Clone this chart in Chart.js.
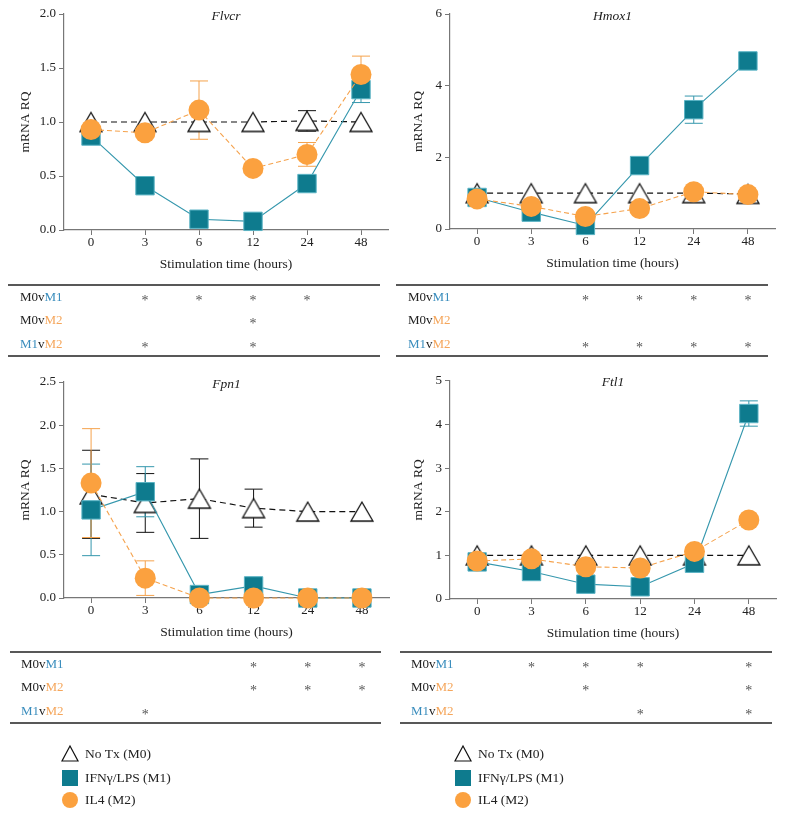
<!DOCTYPE html>
<html>
<head>
<meta charset="utf-8">
<title>mRNA RQ</title>
<script src="https://cdn.jsdelivr.net/npm/chart.js@4.4.1/dist/chart.umd.min.js"></script>
<style>
  body { margin: 0; background: #fff; }
  #page { position: relative; width: 786px; height: 816px; overflow: hidden; }
  canvas { position: absolute; }
</style>
</head>
<body>
<div id="page">
  <canvas id="flvcr" width="393" height="370" style="left:0;top:0"></canvas>
  <canvas id="hmox1" width="393" height="370" style="left:393px;top:0"></canvas>
  <canvas id="fpn1" width="393" height="446" style="left:0;top:370px"></canvas>
  <canvas id="ftl1" width="393" height="446" style="left:393px;top:370px"></canvas>
</div>
<script>
// time points (hours)
const hours = ['0', '3', '6', '12', '24', '48'];
const groupNames = ['No Tx (M0)', 'IFN\u03b3/LPS (M1)', 'IL4 (M2)'];
const compareNames = [['M0', 'M1'], ['M0', 'M2'], ['M1', 'M2']];

// Flvcr
const flvcrM0 = [1.0, 1.0, 1.0, 1.0, 1.01, 1.0];
const flvcrM0Err = [0, 0, 0.08, 0, 0.095, 0];
const flvcrM1 = [0.87, 0.41, 0.10, 0.08, 0.43, 1.30];
const flvcrM1Err = [0, 0, 0, 0, 0, 0.12];
const flvcrM2 = [0.93, 0.90, 1.11, 0.57, 0.70, 1.44];
const flvcrM2Err = [0, 0, 0.27, 0, 0.11, 0.17];
const flvcrSig = [
  ['', '*', '*', '*', '*', ''],
  ['', '', '', '*', '', ''],
  ['', '*', '', '*', '', '']
];

// Hmox1
const hmoxM0 = [1.0, 1.0, 1.0, 1.0, 1.0, 0.98];
const hmoxM0Err = [0, 0, 0, 0, 0, 0];
const hmoxM1 = [0.88, 0.47, 0.10, 1.77, 3.33, 4.69];
const hmoxM1Err = [0, 0, 0, 0, 0.38, 0];
const hmoxM2 = [0.84, 0.63, 0.35, 0.57, 1.04, 0.96];
const hmoxM2Err = [0, 0, 0, 0, 0, 0];
const hmoxSig = [
  ['', '', '*', '*', '*', '*'],
  ['', '', '', '', '', ''],
  ['', '', '*', '*', '*', '*']
];

// Fpn1
const fpnM0 = [1.20, 1.10, 1.15, 1.04, 1.0, 1.0];
const fpnM0Err = [0.51, 0.34, 0.46, 0.22, 0, 0];
const fpnM1 = [1.02, 1.23, 0.04, 0.14, 0.0, 0.0];
const fpnM1Err = [0.53, 0.29, 0, 0, 0, 0];
const fpnM2 = [1.33, 0.23, 0.0, 0.0, 0.0, 0.0];
const fpnM2Err = [0.63, 0.20, 0, 0, 0, 0];
const fpnSig = [
  ['', '', '', '*', '*', '*'],
  ['', '', '', '*', '*', '*'],
  ['', '*', '', '', '', '']
];

// Ftl1
const ftlM0 = [1.0, 1.0, 1.0, 1.0, 1.0, 1.0];
const ftlM0Err = [0, 0, 0, 0, 0, 0];
const ftlM1 = [0.85, 0.63, 0.34, 0.28, 0.82, 4.25];
const ftlM1Err = [0, 0, 0, 0, 0, 0.29];
const ftlM2 = [0.87, 0.92, 0.74, 0.71, 1.09, 1.81];
const ftlM2Err = [0, 0, 0, 0, 0, 0];
const ftlSig = [
  ['', '*', '*', '*', '', '*'],
  ['', '', '*', '', '', '*'],
  ['', '', '', '*', '', '*']
];

const colors = {
  m0: '#111111',
  m1: '#0e7b8e', m1Edge: '#5ab3c4', m1Line: '#3597ad',
  m2: '#fba13f', m2Line: '#f5a24c',
  axis: '#777777', text: '#222222',
  labelM0: '#222222', labelM1: '#3a8dbd', labelM2: '#f5a65b'
};
const serif = '"Liberation Serif", "DejaVu Serif", serif';

/* hollow triangle centred on its box (Chart.js' own triangle sits on its centroid) */
function makeTriangle(w, h) {
  const c = document.createElement('canvas');
  c.width = w + 4;
  c.height = h + 4;
  const g = c.getContext('2d');
  g.fillStyle = '#fff';
  g.strokeStyle = colors.m0;
  g.lineWidth = 1.3;
  g.beginPath();
  g.moveTo(c.width / 2, 2);
  g.lineTo(c.width - 2, h + 2);
  g.lineTo(2, h + 2);
  g.closePath();
  g.fill();
  g.stroke();
  return c;
}
const triangleMark = makeTriangle(22, 19);

const extrasPlugin = {
  id: 'extras',

  beforeDatasetsDraw: function (chart) {
    const ctx = chart.ctx;
    const xs = chart.scales.x;
    const ys = chart.scales.y;
    chart.data.datasets.forEach(function (ds) {
      ctx.save();
      ctx.strokeStyle = ds.errColor;
      ctx.lineWidth = 1;
      ds.data.forEach(function (v, i) {
        const e = ds.err[i];
        if (!e) { return; }
        const px = xs.getPixelForValue(i);
        const top = ys.getPixelForValue(v + e);
        const bot = ys.getPixelForValue(Math.max(v - e, 0));
        ctx.beginPath();
        ctx.moveTo(px, top); ctx.lineTo(px, bot);
        ctx.moveTo(px - 9, top); ctx.lineTo(px + 9, top);
        ctx.moveTo(px - 9, bot); ctx.lineTo(px + 9, bot);
        ctx.stroke();
      });
      ctx.restore();
    });
  },

  afterDraw: function (chart) {
    const opts = chart.options.plugins.extras;
    const ctx = chart.ctx;
    const area = chart.chartArea;
    const xs = chart.scales.x;

    ctx.save();
    /* gene title, italic, inside the plot */
    ctx.font = 'italic 13.5px ' + serif;
    ctx.fillStyle = colors.text;
    ctx.textAlign = 'center';
    ctx.textBaseline = 'middle';
    ctx.fillText(opts.gene, (area.left + area.right) / 2, area.top + 2);

    /* significance table */
    const t = opts.table;
    ctx.strokeStyle = '#222';
    ctx.lineWidth = 1.3;
    ctx.beginPath();
    ctx.moveTo(t.left, t.top); ctx.lineTo(t.right, t.top);
    ctx.moveTo(t.left, t.top + 71); ctx.lineTo(t.right, t.top + 71);
    ctx.stroke();

    const rowY = [t.top + 13, t.top + 36, t.top + 60];
    const labelColor = { M0: colors.labelM0, M1: colors.labelM1, M2: colors.labelM2 };
    ctx.textAlign = 'left';
    ctx.font = '13px ' + serif;
    compareNames.forEach(function (pair, r) {
      let lx = t.labelX;
      [[pair[0], labelColor[pair[0]]], ['v', colors.text], [pair[1], labelColor[pair[1]]]].forEach(function (seg) {
        ctx.fillStyle = seg[1];
        ctx.fillText(seg[0], lx, rowY[r]);
        lx += ctx.measureText(seg[0]).width;
      });
    });
    ctx.textAlign = 'center';
    ctx.fillStyle = '#555';
    ctx.font = '14px ' + serif;
    opts.sig.forEach(function (row, r) {
      row.forEach(function (s, i) {
        if (s) { ctx.fillText(s, xs.getPixelForValue(i), rowY[r] + 3); }
      });
    });

    /* legend */
    if (opts.legendTop) {
      const ly = [opts.legendTop, opts.legendTop + 24, opts.legendTop + 46];
      const mx = 70;
      ctx.lineWidth = 1.2;
      ctx.strokeStyle = colors.m0;
      ctx.fillStyle = '#fff';
      ctx.beginPath();
      ctx.moveTo(mx, ly[0] - 8); ctx.lineTo(mx + 8, ly[0] + 7); ctx.lineTo(mx - 8, ly[0] + 7);
      ctx.closePath();
      ctx.fill(); ctx.stroke();
      ctx.fillStyle = colors.m1;
      ctx.fillRect(mx - 8, ly[1] - 8, 16, 16);
      ctx.fillStyle = colors.m2;
      ctx.beginPath();
      ctx.arc(mx, ly[2], 8, 0, Math.PI * 2);
      ctx.fill();
      ctx.fillStyle = colors.text;
      ctx.textAlign = 'left';
      ctx.font = '13.5px ' + serif;
      groupNames.forEach(function (name, i) { ctx.fillText(name, 85, ly[i]); });
    }
    ctx.restore();
  }
};

const app = {
  renderPanel: function (p) {
    const ctx = document.getElementById(p.id).getContext('2d');

    // eslint-disable-next-line no-undef
    return new Chart(ctx, {
      type: 'line',
      data: {
        labels: hours,
        datasets: [{
          label: groupNames[0],
          data: p.m0, err: p.m0Err, errColor: colors.m0,
          borderColor: colors.m0, borderWidth: 1.2, borderDash: [6, 4],
          pointStyle: triangleMark, pointRadius: 12,
          order: 3, clip: false,
        },
        {
          label: groupNames[1],
          data: p.m1, err: p.m1Err, errColor: colors.m1Line,
          borderColor: colors.m1Line, borderWidth: 1.1,
          pointStyle: 'rect', pointRadius: 13,
          pointBackgroundColor: colors.m1, pointBorderColor: colors.m1Edge, pointBorderWidth: 1,
          order: 2, clip: false,
        },
        {
          label: groupNames[2],
          data: p.m2, err: p.m2Err, errColor: colors.m2Line,
          borderColor: colors.m2Line, borderWidth: 1.1, borderDash: [5, 3],
          pointStyle: 'circle', pointRadius: 10.5,
          pointBackgroundColor: colors.m2, pointBorderColor: colors.m2, pointBorderWidth: 0,
          order: 1, clip: false,
        }]
      },
      options: {
        responsive: false,
        animation: false,
        layout: {
          autoPadding: false,
          padding: { top: p.padTop, right: p.padRight, bottom: p.padBottom, left: 0 }
        },
        elements: { line: { tension: 0 } },
        scales: {
          x: {
            offset: true,
            afterFit: function (s) {
              s.height = 45;
              s.paddingLeft = 0;
              s.paddingRight = 0;
            },
            grid: { drawOnChartArea: false, drawTicks: true, tickLength: 5, color: colors.axis },
            border: { color: colors.axis, width: 1.2 },
            ticks: { padding: 0, color: colors.text, font: { family: serif, size: 13 }, maxRotation: 0 },
            title: { display: true, text: 'Stimulation time (hours)', color: colors.text,
              font: { family: serif, size: 13.5 }, padding: { top: 0, bottom: 2 } },
          },
          y: {
            min: 0, max: p.yMax,
            afterFit: function (s) { s.width = p.axisW; },
            grid: { drawOnChartArea: false, drawTicks: true, tickLength: 5, color: colors.axis },
            border: { color: colors.axis, width: 1.2 },
            ticks: {
              stepSize: p.yStep, padding: 3, color: colors.text,
              font: { family: serif, size: 13 },
              callback: function (v) { return v.toFixed(p.decimals); }
            },
            title: { display: true, text: 'mRNA RQ', color: colors.text,
              font: { family: serif, size: 13.5 }, padding: { top: 17, bottom: 0 } },
          }
        },
        plugins: {
          legend: { display: false },
          tooltip: { enabled: false },
          extras: { gene: p.gene, sig: p.sig, table: p.table, legendTop: p.legendTop },
        }
      },
      plugins: [extrasPlugin]
    });
  },

  init: function () {
    const thisApp = this;

    const panels = [
      { id: 'flvcr', gene: 'Flvcr', m0: flvcrM0, m0Err: flvcrM0Err, m1: flvcrM1, m1Err: flvcrM1Err,
        m2: flvcrM2, m2Err: flvcrM2Err, sig: flvcrSig, yMax: 2, yStep: 0.5, decimals: 1,
        axisW: 64, padTop: 14, padRight: 5, padBottom: 95,
        table: { top: 285, left: 8, right: 380, labelX: 20 } },
      { id: 'hmox1', gene: 'Hmox1', m0: hmoxM0, m0Err: hmoxM0Err, m1: hmoxM1, m1Err: hmoxM1Err,
        m2: hmoxM2, m2Err: hmoxM2Err, sig: hmoxSig, yMax: 6, yStep: 2, decimals: 0,
        axisW: 57, padTop: 14, padRight: 11, padBottom: 96,
        table: { top: 285, left: 3, right: 375, labelX: 15 } },
      { id: 'fpn1', gene: 'Fpn1', m0: fpnM0, m0Err: fpnM0Err, m1: fpnM1, m1Err: fpnM1Err,
        m2: fpnM2, m2Err: fpnM2Err, sig: fpnSig, yMax: 2.5, yStep: 0.5, decimals: 1,
        axisW: 64, padTop: 12, padRight: 4, padBottom: 173,
        table: { top: 282, left: 10, right: 381, labelX: 21 }, legendTop: 384 },
      { id: 'ftl1', gene: 'Ftl1', m0: ftlM0, m0Err: ftlM0Err, m1: ftlM1, m1Err: ftlM1Err,
        m2: ftlM2, m2Err: ftlM2Err, sig: ftlSig, yMax: 5, yStep: 1, decimals: 0,
        axisW: 57, padTop: 10, padRight: 10, padBottom: 172,
        table: { top: 282, left: 7, right: 379, labelX: 18 }, legendTop: 384 }
    ];

    panels.forEach(function (p) { thisApp.renderPanel(p); });
  }
};

app.init();
</script>
</body>
</html>
